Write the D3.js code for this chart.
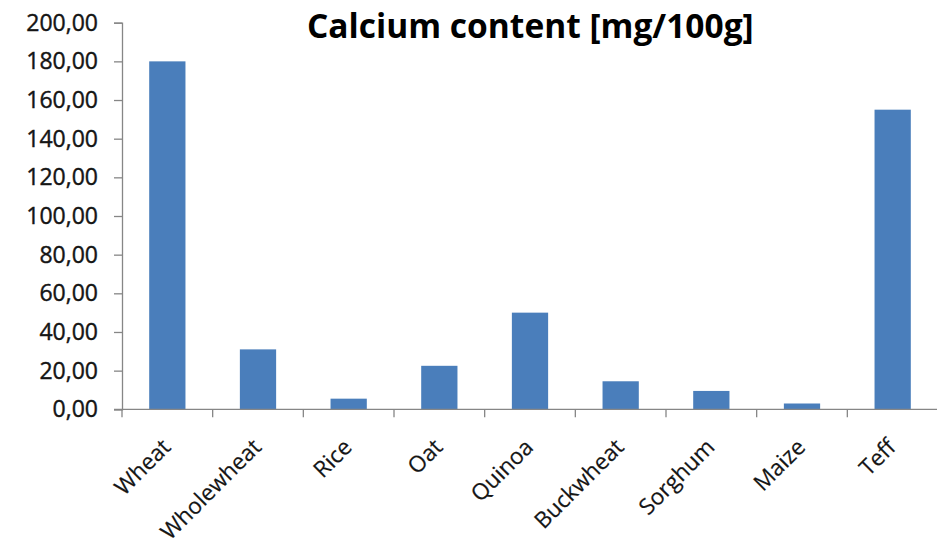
<!DOCTYPE html>
<html>
<head>
<meta charset="utf-8">
<script src="https://cdn.jsdelivr.net/npm/d3@7"></script>
<style>
  html, body { margin: 0; padding: 0; background: #fff; }
  svg { display: block; }
</style>
</head>
<body>
<svg id="chart" width="937" height="546"></svg>
<script>
// Calcium content of cereals and pseudo-cereals (mg per 100 g)
const categories = ["Wheat", "Wholewheat", "Rice", "Oat", "Quinoa", "Buckwheat", "Sorghum", "Maize", "Teff"];
const calcium = [180, 31, 5.5, 22.5, 50, 14.5, 9.5, 3, 155];
const yTicks = [0, 20, 40, 60, 80, 100, 120, 140, 160, 180, 200];
const title = "Calcium content [mg/100g]";

const svg = d3.select("#chart");
const plotLeft = 122, plotRight = 938, plotTop = 22.7, plotBottom = 409.3;
const axisColor = "#868686";
const barColor = "#4a7ebb";
const textColor = "#151515";

const x = d3.scaleBand()
  .domain(categories)
  .range([plotLeft, plotRight])
  .paddingInner(0.6)
  .paddingOuter(0.3);

const y = d3.scaleLinear()
  .domain([0, 200])
  .range([plotBottom, plotTop]);

const fmt = v => d3.format(".2f")(v).replace(".", ",");

// Bars
svg.append("g")
  .selectAll("rect")
  .data(categories)
  .join("rect")
  .attr("x", d => x(d))
  .attr("width", x.bandwidth())
  .attr("y", (d, i) => y(calcium[i]))
  .attr("height", (d, i) => y(0) - y(calcium[i]))
  .attr("fill", barColor);

// Y axis
const yAxis = svg.append("g")
  .attr("transform", `translate(${plotLeft},0)`)
  .call(d3.axisLeft(y).tickValues(yTicks).tickFormat(fmt).tickSize(8).tickPadding(16));
yAxis.select(".domain").attr("stroke", axisColor).attr("stroke-width", 1.3);
yAxis.selectAll(".tick line").attr("stroke", axisColor).attr("stroke-width", 1.3);
yAxis.selectAll(".tick text")
  .attr("fill", textColor)
  .attr("stroke", textColor)
  .attr("stroke-width", 0.4)
  .style("font-family", "'Open Sans', sans-serif")
  .style("font-size", "23px");

// X axis: line plus tick marks at category boundaries
const step = x.step();
const boundaries = d3.range(categories.length + 1).map(i => plotLeft + i * step);
const xAxis = svg.append("g");
xAxis.append("line")
  .attr("x1", plotLeft - 8).attr("x2", plotRight)
  .attr("y1", y(0)).attr("y2", y(0))
  .attr("stroke", axisColor).attr("stroke-width", 1.3);
xAxis.selectAll("line.tick")
  .data(boundaries)
  .join("line")
  .attr("class", "tick")
  .attr("x1", d => d).attr("x2", d => d)
  .attr("y1", y(0)).attr("y2", y(0) + 8)
  .attr("stroke", axisColor).attr("stroke-width", 1.3);

// Rotated category labels
xAxis.selectAll("text")
  .data(categories)
  .join("text")
  .attr("transform", d => `translate(${x(d) + x.bandwidth() / 2 - 1},443) rotate(-45)`)
  .attr("text-anchor", "end")
  .attr("dy", "0.35em")
  .attr("fill", textColor)
  .attr("stroke", textColor)
  .attr("stroke-width", 0.2)
  .style("font-family", "'Open Sans', sans-serif")
  .style("font-size", "22.5px")
  .text(d => d);

// Title
svg.append("text")
  .attr("x", 307)
  .attr("y", 38)
  .attr("fill", "#000")
  .style("font-family", "'Open Sans', sans-serif")
  .style("font-weight", "700")
  .style("font-size", "33.5px")
  .text(title);
</script>
</body>
</html>
